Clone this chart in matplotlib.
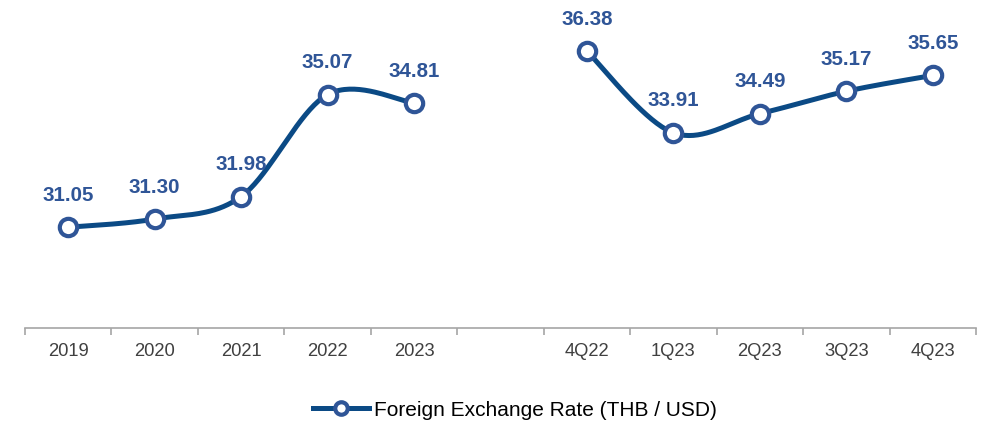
import numpy as np
import matplotlib
matplotlib.use("Agg")
import matplotlib.pyplot as plt
from matplotlib.lines import Line2D

plt.rcParams['font.family'] = ['Liberation Sans', 'DejaVu Sans']

categories = ["2019", "2020", "2021", "2022", "2023", "", "4Q22", "1Q23", "2Q23", "3Q23", "4Q23"]
annual_values = [31.05, 31.30, 31.98, 35.07, 34.81]
quarter_values = [36.38, 33.91, 34.49, 35.17, 35.65]
series_name = "Foreign Exchange Rate (THB / USD)"

LINE_C = "#0B4A85"
MARK_C = "#2F5597"
LABEL_C = "#2F5597"

def smooth(xs, ys, n=40):
    # Catmull-Rom style Bezier smoothing through the data points (Excel-like)
    xs = np.asarray(xs, float); ys = np.asarray(ys, float)
    out_x, out_y = [], []
    k = len(xs)
    for i in range(k - 1):
        p0 = np.array([xs[max(i - 1, 0)], ys[max(i - 1, 0)]])
        p1 = np.array([xs[i], ys[i]])
        p2 = np.array([xs[i + 1], ys[i + 1]])
        p3 = np.array([xs[min(i + 2, k - 1)], ys[min(i + 2, k - 1)]])
        c1 = p1 + (p2 - p0) / 6.0
        c2 = p2 - (p3 - p1) / 6.0
        t = np.linspace(0, 1, n)[:, None]
        b = ((1 - t) ** 3) * p1 + 3 * ((1 - t) ** 2) * t * c1 + 3 * (1 - t) * t ** 2 * c2 + t ** 3 * p2
        out_x.extend(b[:, 0]); out_y.extend(b[:, 1])
    return np.array(out_x), np.array(out_y)

fig = plt.figure(figsize=(10.07, 4.24), dpi=100)
ax = fig.add_axes([25 / 1007, (424 - 328) / 424, (976 - 25) / 1007, 328 / 424])

x_annual = np.arange(0, 5)
x_quarter = np.arange(6, 11)

for xs, ys in [(x_annual, annual_values), (x_quarter, quarter_values)]:
    sx, sy = smooth(xs, ys)
    ax.plot(sx, sy, color=LINE_C, lw=3.6, solid_capstyle='round', zorder=2)
    ax.plot(xs, ys, linestyle='none', marker='o', markersize=12.5, markerfacecolor='white',
            markeredgecolor=MARK_C, markeredgewidth=3.0, zorder=3)
    for x, y in zip(xs, ys):
        ax.annotate(f"{y:.2f}", (x, y), xytext=(0, 23), textcoords='offset points',
                    ha='center', va='center', fontsize=14.8, fontweight='bold', color=LABEL_C)

ax.set_xlim(-0.5, 10.5)
ax.set_ylim(28, 28 + 328 / 33.02)

ax.set_xticks(np.arange(-0.5, 11, 1.0))
ax.set_xticklabels([])
ax.set_xticks(np.arange(0, 11), minor=True)
ax.set_xticklabels(categories, minor=True, fontsize=13.2, color="#404040")
ax.tick_params(axis='x', which='major', length=5, width=1.2, color="#A6A6A6", direction='out')
ax.tick_params(axis='x', which='minor', length=0, pad=11)
ax.set_yticks([])
for s in ['top', 'right', 'left']:
    ax.spines[s].set_visible(False)
ax.spines['bottom'].set_color("#A6A6A6")
ax.spines['bottom'].set_linewidth(1.2)

handle = Line2D([], [], color=LINE_C, lw=3.6, marker='o', markersize=9, markerfacecolor='white',
                markeredgecolor=MARK_C, markeredgewidth=3.0)
fig.legend([handle], [series_name], loc='center', bbox_to_anchor=(515 / 1007, 1 - 410 / 424),
           frameon=False, fontsize=15, handlelength=2.7, handletextpad=0.25)

fig.savefig("out.png", dpi=100)
